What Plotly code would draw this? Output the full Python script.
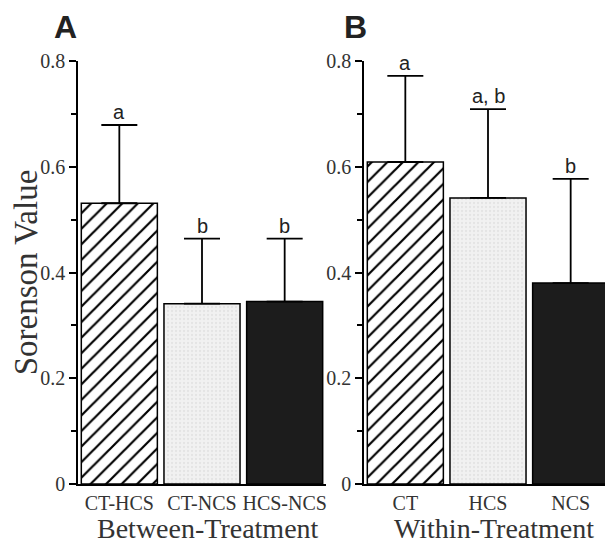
import plotly.graph_objects as go

# ---- data ----
cats_a = ["CT-HCS", "CT-NCS", "HCS-NCS"]
vals_a = [0.531, 0.341, 0.345]
err_top_a = [0.679, 0.464, 0.464]
letters_a = ["a", "b", "b"]

cats_b = ["CT", "HCS", "NCS"]
vals_b = [0.609, 0.541, 0.380]
err_top_b = [0.772, 0.709, 0.577]
letters_b = ["a", "a, b", "b"]

y_ticks = [0, 0.2, 0.4, 0.6, 0.8]

OFF = 8
W, H = 613 - OFF, 545 - OFF
SERIF = "Liberation Serif, Times New Roman, serif"
SANS = "Liberation Sans, Arial, sans-serif"


def px(xp):
    return (xp - OFF) / W


def py(yp):
    return 1 - (yp - OFF) / H


styles = [
    dict(color="white", pattern=dict(shape="/", fgcolor="#000000", bgcolor="white", size=11,
                                     solidity=0.2, fgopacity=1, fillmode="replace")),
    dict(color="#efefef", pattern=dict(shape=".", fgcolor="#d6d6d6", bgcolor="#f1f1f1", size=4, solidity=0.25)),
    dict(color="#1c1c1c"),
]

fig = go.Figure()
for cats, vals, tops, xa, ya in [(cats_a, vals_a, err_top_a, "x", "y"),
                                 (cats_b, vals_b, err_top_b, "x2", "y2")]:
    for i, (c, v, t) in enumerate(zip(cats, vals, tops)):
        fig.add_trace(go.Bar(
            x=[c], y=[v], xaxis=xa, yaxis=ya, showlegend=False,
            marker=dict(line=dict(color="black", width=1.5), **styles[i]),
            error_y=dict(type="data", symmetric=False, array=[t - v], arrayminus=[0],
                         color="black", thickness=1.8, width=18),
        ))

ydom = [py(484), py(61)]
yax = dict(range=[0, 0.8], tickvals=y_ticks, ticktext=["0", "0.2", "0.4", "0.6", "0.8"],
           showline=True, linecolor="black", linewidth=1.5,
           ticks="outside", ticklen=7, tickwidth=1.5, tickcolor="black",
           minor=dict(dtick=0.1, ticks="outside", ticklen=5, tickwidth=1.5, tickcolor="black"),
           showgrid=False, zeroline=False, domain=ydom, automargin=False,
           tickfont=dict(family=SERIF, size=20, color="#333"))
xax = dict(showline=True, linecolor="black", linewidth=1.5, ticks="",
           showgrid=False, zeroline=False, automargin=False,
           categoryorder="array", ticklabelstandoff=0,
           tickfont=dict(family=SERIF, size=20, color="#333"))

fig.update_layout(
    width=W, height=H,
    margin=dict(l=0, r=0, t=0, b=0, autoexpand=False),
    paper_bgcolor="white", plot_bgcolor="white",
    barmode="overlay", bargap=0.08,
    xaxis=dict(**xax, domain=[px(78), px(326)], anchor="y", categoryarray=cats_a),
    xaxis2=dict(**xax, domain=[px(364), px(612)], anchor="y2", categoryarray=cats_b),
    yaxis=dict(**yax, anchor="x",
               title=dict(text="Sorenson Value", font=dict(family=SERIF, size=33, color="#333"), standoff=5)),
    yaxis2=dict(**yax, anchor="x2"),
)

ann = []
for c, t, l in zip(cats_a, err_top_a, letters_a):
    ann.append(dict(x=c, y=t, xref="x", yref="y", text=l, showarrow=False, yanchor="bottom",
                    font=dict(family=SANS, size=20, color="#222"), yshift=0))
for c, t, l in zip(cats_b, err_top_b, letters_b):
    ann.append(dict(x=c, y=t, xref="x2", yref="y2", text=l, showarrow=False, yanchor="bottom",
                    font=dict(family=SANS, size=20, color="#222"), yshift=0))
# group titles under each panel
for xc, txt in [(208, "Between-Treatment"), (494, "Within-Treatment")]:
    ann.append(dict(x=px(xc), y=0, xref="paper", yref="paper", text=txt, showarrow=False,
                    xanchor="center", yanchor="bottom", borderpad=0,
                    font=dict(family=SERIF, size=28, color="#333")))
ann.append(dict(x=px(65), y=py(27), xref="paper", yref="paper", text="<b>A</b>", showarrow=False,
                xanchor="center", yanchor="middle",
                font=dict(family=SANS, size=32, color="#222")))
ann.append(dict(x=px(355), y=py(27), xref="paper", yref="paper", text="<b>B</b>", showarrow=False,
                xanchor="center", yanchor="middle",
                font=dict(family=SANS, size=32, color="#222")))
fig.update_layout(annotations=ann)

fig.write_html("out.html")
